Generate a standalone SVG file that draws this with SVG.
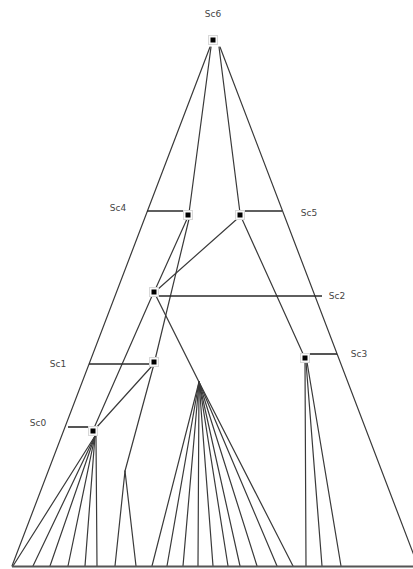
<svg xmlns="http://www.w3.org/2000/svg" width="413" height="569" viewBox="0 0 413 569">
<style>
.e{stroke:#3a3a3a;stroke-width:1.2;fill:none;stroke-linecap:round}
.h{stroke:#2a2a2a;stroke-width:1.6;fill:none}
.b{stroke:#555;stroke-width:2.2;fill:none}
.lbl{font-family:"DejaVu Sans",sans-serif;font-size:9px;fill:#444;text-anchor:middle}
.halo{fill:#fafafa;stroke:#d8d8d8;stroke-width:1}
.dot{fill:#000}
</style>
<defs>
<g id="mk"><rect class="halo" x="-4.5" y="-4.5" width="9" height="9"/><rect class="dot" x="-2.5" y="-2.5" width="5" height="5"/></g>
</defs>
<rect width="413" height="569" fill="#fff"/>
<g id="connectors">
<line class="e" x1="210" y1="47" x2="12" y2="566"/>
<line class="e" x1="220" y1="47" x2="418" y2="566"/>
<line class="e" x1="211" y1="47" x2="189" y2="213"/>
<line class="e" x1="219" y1="47" x2="240" y2="213"/>
<line class="e" x1="187" y1="219" x2="155" y2="290"/>
<polyline class="e" points="189,219 154,364 125,471"/>
<line class="e" x1="125" y1="471" x2="115" y2="566"/>
<line class="e" x1="125" y1="471" x2="136" y2="566"/>
<line class="e" x1="237" y1="219" x2="157" y2="290"/>
<line class="e" x1="242" y1="219" x2="304" y2="356"/>
<line class="e" x1="152" y1="296" x2="94" y2="428"/>
<line class="e" x1="156" y1="296" x2="199" y2="382"/>
<line class="e" x1="152" y1="366" x2="96" y2="428"/>
<g id="starfan">
<line class="e" x1="199" y1="382" x2="152" y2="566"/>
<line class="e" x1="199" y1="382" x2="167" y2="566"/>
<line class="e" x1="199" y1="382" x2="183" y2="566"/>
<line class="e" x1="199" y1="382" x2="198" y2="566"/>
<line class="e" x1="199" y1="382" x2="213" y2="566"/>
<line class="e" x1="199" y1="382" x2="228" y2="566"/>
<line class="e" x1="199" y1="382" x2="240" y2="566"/>
<line class="e" x1="199" y1="382" x2="257" y2="566"/>
<line class="e" x1="199" y1="382" x2="277" y2="566"/>
<line class="e" x1="199" y1="382" x2="293" y2="566"/>
</g>
<g id="sc0fan">
<line class="e" x1="95" y1="436" x2="13" y2="566"/>
<line class="e" x1="95" y1="436" x2="33" y2="566"/>
<line class="e" x1="95" y1="436" x2="50" y2="566"/>
<line class="e" x1="95" y1="436" x2="68" y2="566"/>
<line class="e" x1="95" y1="436" x2="85" y2="566"/>
<line class="e" x1="96" y1="436" x2="97" y2="566"/>
</g>
<g id="sc3fan">
<line class="e" x1="305" y1="362" x2="306" y2="566"/>
<line class="e" x1="306" y1="362" x2="322" y2="566"/>
<line class="e" x1="307" y1="362" x2="341" y2="566"/>
</g>
<line class="h" x1="147" y1="211" x2="184" y2="211"/>
<line class="h" x1="245" y1="211" x2="282" y2="211"/>
<line class="h" x1="158" y1="296" x2="322" y2="296"/>
<line class="h" x1="89" y1="364" x2="151" y2="364"/>
<line class="h" x1="309" y1="354" x2="337" y2="354"/>
<line class="h" x1="68" y1="427" x2="89" y2="427"/>
<line class="b" x1="12" y1="566.5" x2="413" y2="566.5"/>
</g>
<g id="Sc6"><use href="#mk" x="213" y="40"/><text class="lbl" x="213" y="17">Sc6</text></g>
<g id="Sc4"><use href="#mk" x="188" y="215"/><text class="lbl" x="118" y="211">Sc4</text></g>
<g id="Sc5"><use href="#mk" x="240" y="215"/><text class="lbl" x="309" y="216">Sc5</text></g>
<g id="Sc2"><use href="#mk" x="154" y="292"/><text class="lbl" x="337" y="299">Sc2</text></g>
<g id="Sc1"><use href="#mk" x="154" y="362"/><text class="lbl" x="58" y="367">Sc1</text></g>
<g id="Sc3"><use href="#mk" x="305" y="358"/><text class="lbl" x="359" y="357">Sc3</text></g>
<g id="Sc0"><use href="#mk" x="93" y="431"/><text class="lbl" x="38" y="426">Sc0</text></g>
</svg>
